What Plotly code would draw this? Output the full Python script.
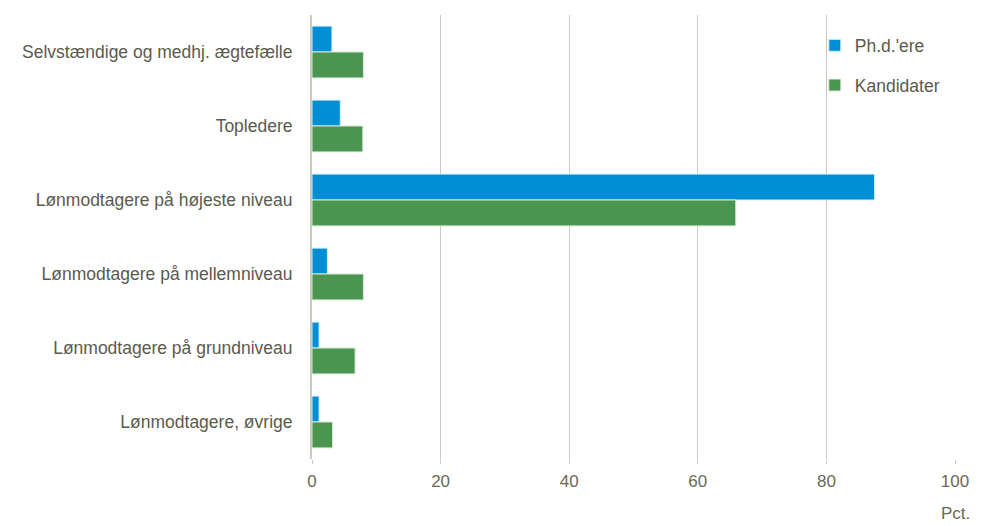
import plotly.graph_objects as go

categories = [
    "Selvstændige og medhj. ægtefælle",
    "Topledere",
    "Lønmodtagere på højeste niveau",
    "Lønmodtagere på mellemniveau",
    "Lønmodtagere på grundniveau",
    "Lønmodtagere, øvrige",
]
phd = [3.1, 4.4, 87.5, 2.4, 1.1, 1.1]
kandidater = [8.0, 7.9, 65.9, 8.0, 6.7, 3.2]
x_ticks = [0, 20, 40, 60, 80, 100]

text_color = "#5b5a4e"
tick_color = "#6b6955"
grid_color = "#c9c9bd"
font_family = "Liberation Sans, Arial, sans-serif"

fig = go.Figure()
fig.add_trace(go.Bar(
    y=categories, x=phd, orientation="h", name="Ph.d.'ere",
    marker=dict(color="#008fd5", line=dict(color="#d8eef8", width=1)),
    legendgroup="a",
))
fig.add_trace(go.Bar(
    y=categories, x=kandidater, orientation="h", name="Kandidater",
    marker=dict(color="#4a9650", line=dict(color="#d8e8d8", width=1)),
    legendgroup="b",
))

fig.update_layout(
    width=984, height=526,
    margin=dict(l=312, r=29, t=15, b=67, autoexpand=False),
    barmode="group",
    bargap=0.3,
    bargroupgap=0.0,
    plot_bgcolor="white",
    paper_bgcolor="white",
    font=dict(family=font_family, size=17.5, color=text_color),
    showlegend=True,
    legend=dict(
        x=0.782, y=0.972, xanchor="left", yanchor="top",
        bgcolor="rgba(0,0,0,0)",
        font=dict(size=17.5, color=text_color),
        tracegroupgap=14,
        itemwidth=30,
    ),
    xaxis=dict(
        range=[0, 100],
        tickvals=x_ticks,
        showgrid=True, gridcolor=grid_color, gridwidth=1,
        zeroline=False,
        showline=False,
        ticks="outside", ticklen=4, tickcolor=grid_color,
        ticklabelstandoff=3,
        tickfont=dict(size=17, color=tick_color),
        fixedrange=True,
    ),
    yaxis=dict(
        autorange="reversed",
        showline=True, linecolor=grid_color, linewidth=2,
        ticks="", ticklabelstandoff=14,
        tickfont=dict(size=17.5, color=text_color),
        automargin=False,
    ),
)

fig.add_annotation(
    text="Pct.", xref="paper", yref="paper", x=1.0, y=-0.097,
    xanchor="center", yanchor="top", showarrow=False,
    font=dict(size=17, color=tick_color),
)

fig.write_html("out.html", config={"displayModeBar": False},
               post_script="document.body.style.margin='0';")
